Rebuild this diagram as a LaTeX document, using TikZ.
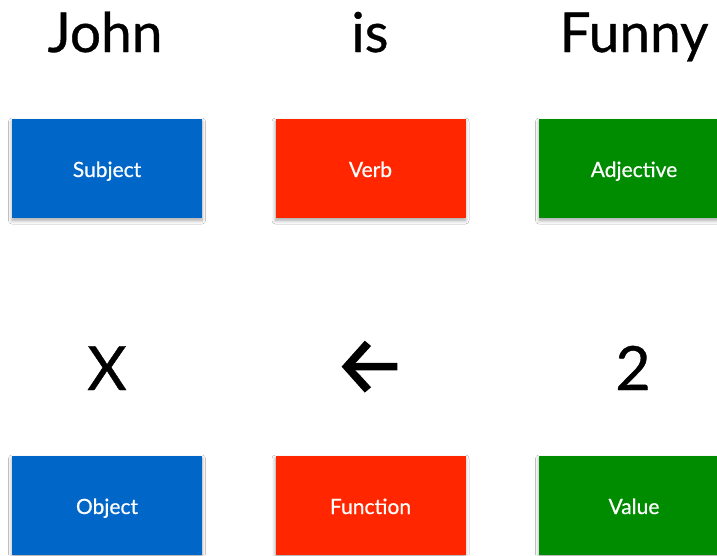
\documentclass[tikz,border=0pt]{standalone}
\usepackage{fontspec}
\setmainfont{Lato}[FakeBold=0.6]
\newfontfamily\arrowfont{Fira Sans}[FakeBold=1.2]
\usetikzlibrary{shadows.blur}
\definecolor{cblue}{RGB}{0,102,200}
\definecolor{cred}{RGB}{255,38,0}
\definecolor{cgreen}{RGB}{0,140,0}
\begin{document}
\begin{tikzpicture}[x=1pt,y=-1pt,
  cbox/.style={rectangle, minimum width=190pt, minimum height=99pt, inner sep=0pt,
    blur shadow={shadow xshift=0pt, shadow yshift=-2.5pt, shadow blur radius=3.5pt, shadow opacity=35, shadow blur steps=8}},
  lbl/.style={text=white, font=\fontsize{21}{24}\selectfont, anchor=base, inner sep=0pt},
  topword/.style={font=\fontsize{55}{60}\selectfont, anchor=base, inner sep=0pt},
  botword/.style={font=\fontsize{61}{66}\selectfont, anchor=base, inner sep=0pt}]
\useasboundingbox (0,0) rectangle (717,555);
\fill[white] (0,0) rectangle (717,555);
% top words
\node[topword] (john) at (105,52) {John};
\node[topword] (is) at (370,52) {is};
\node[topword] (funny) at (634,52) {Funny};
% top boxes
\node[cbox, fill=cblue] (subj) at (107,168.5) {};
\node[cbox, fill=cred] (verb) at (370.5,168.5) {};
\node[cbox, fill=cgreen] (adj) at (634,168.5) {};
\node[lbl] (subjt) at (107,177) {Subject};
\node[lbl] (verbt) at (370.5,177) {Verb};
\node[lbl] (adjt) at (634,177) {Adjective};
% bottom words
\node[botword] (x) at (107,390) {X};
\node[inner sep=0pt, font=\arrowfont\fontsize{82}{88}\selectfont] (arr) at (370,367.5) {←};
\node[botword] (two) at (633,390) {2};
% bottom boxes
\node[cbox, fill=cblue] (obj) at (107,505.5) {};
\node[cbox, fill=cred] (func) at (370.5,505.5) {};
\node[cbox, fill=cgreen] (val) at (634,505.5) {};
\node[lbl] (objt) at (107,514) {Object};
\node[lbl] (funct) at (370.5,514) {Function};
\node[lbl] (valt) at (634,514) {Value};
\end{tikzpicture}
\end{document}
